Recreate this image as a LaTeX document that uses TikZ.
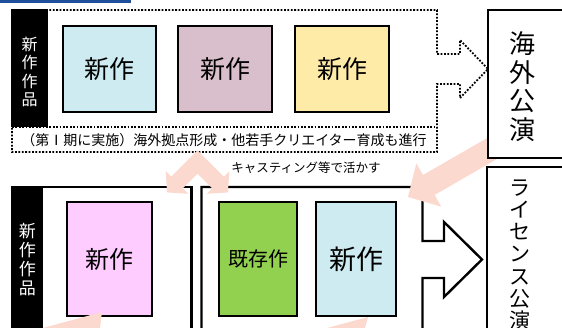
\documentclass[tikz,border=0pt]{standalone}
\usepackage{fontspec}
\newfontfamily\jp{Noto Sans CJK JP}
\definecolor{hdrblue}{HTML}{1F4E9A}
\definecolor{cyanbox}{HTML}{CDEBF0}
\definecolor{mauvebox}{HTML}{D9BFCC}
\definecolor{yellowbox}{HTML}{FFEBA8}
\definecolor{pinkbox}{HTML}{FFCCFF}
\definecolor{greenbox}{HTML}{92D050}
\definecolor{arrowpink}{HTML}{FCD9CF}
\tikzset{
  dotline/.style={line width=1.8pt, dash pattern=on 1.8pt off 1.6pt},
  workbox/.style={draw=black, line width=2.2pt, inner sep=0pt, font=\jp\fontsize{25}{28}\selectfont},
  heavy/.style={draw=black, line width=2.4pt},
  pinkshape/.style={fill=arrowpink, draw=none},
  vlabel/.style={text=white, align=center, inner sep=0pt, font=\jp\fontsize{16}{18.5}\selectfont},
  vtitle/.style={align=center, inner sep=0pt},
}
\begin{document}
\begin{tikzpicture}[x=1pt,y=-1pt]
\useasboundingbox (0,0) rectangle (562,328);
\clip (0,0) rectangle (562,328);

% header bar
\fill[hdrblue] (0,0) rectangle (131,3);

% ---------- upper section ----------
\draw[dotline] (12,10) -- (437,10) -- (437,54) -- (460,54) -- (460,40) -- (488,69)
  -- (460,98) -- (460,84) -- (437,84) -- (437,152) -- (12,152) -- cycle;
\draw[dotline] (12,127) -- (437,127);
\fill[black] (11.1,9.1) rectangle (48,127);
\node[vlabel] (lab1) at (29.5,72) {新\\作\\作\\品};

\node[workbox, fill=cyanbox, minimum width=93pt, minimum height=86pt] (n1) at (109.5,69) {新作};
\node[workbox, fill=mauvebox, minimum width=94pt, minimum height=86pt] (n2) at (225,69) {新作};
\node[workbox, fill=yellowbox, minimum width=94pt, minimum height=86pt] (n3) at (342,69) {新作};

\node[inner sep=0pt, font=\jp\fontsize{14}{16}\selectfont] (cap) at (224,140)
  {（第Ⅰ期に実施）海外拠点形成・他若手クリエイター育成も進行};

\node[inner sep=0pt, font=\jp\fontsize{12.5}{14}\selectfont] (cast) at (306,168)
  {キャスティング等で活かす};

% ---------- lower section ----------
\draw[heavy] (12,187) rectangle (191.5,345);
\fill[black] (10.8,185.8) rectangle (43,335);
\node[vlabel, font=\jp\fontsize{17}{19}\selectfont] (lab2) at (27.5,260) {新\\作\\作\\品};
\node[workbox, fill=pinkbox, line width=2pt, minimum width=85pt, minimum height=114pt,
  font=\jp\fontsize{24}{28}\selectfont] (n4) at (109.5,259) {新作};

\draw[heavy] (201.5,345) -- (201.5,187) -- (422.5,187) -- (422.5,241) -- (444,241)
  -- (444,222) -- (482,259.5) -- (444,297) -- (444,278) -- (422.5,278) -- (422.5,345);
\node[workbox, fill=greenbox, line width=2pt, minimum width=78pt, minimum height=114pt,
  font=\jp\fontsize{20}{24}\selectfont] (n5) at (258,259) {既存作};
\node[workbox, fill=cyanbox, line width=2pt, minimum width=80pt, minimum height=114pt,
  font=\jp\fontsize{27}{30}\selectfont] (n6) at (356,259) {新作};

% pink arrow tips from below
\fill[pinkshape] (102,312) -- (17,335) -- (99.1,335) -- cycle;
\fill[pinkshape] (368,317) -- (301,335) -- (363.1,335) -- cycle;

% pink arrow from overseas box
\fill[pinkshape] (408,197) -- (416.3,163.3) -- (423,175) -- (492.4,135) -- (503.8,155)
  -- (434.6,195) -- (441.3,206.7) -- cycle;

% pink double arrow
\fill[pinkshape] (197.5,150.4) -- (223.8,176.7) -- (229.3,171.2) -- (227.9,192.4)
  -- (206.7,193.8) -- (212.2,188.3) -- (197.5,173.6) -- (182.8,188.3) -- (188.3,193.8)
  -- (167.1,192.4) -- (165.7,171.2) -- (171.2,176.7) -- cycle;

% right boxes
\draw[heavy, line width=2.2pt, fill=white] (488,10) rectangle (600,158);
\node[vtitle, font=\jp\fontsize{26}{28.5}\selectfont] (kaigai) at (522,86.5) {海\\外\\公\\演};
\draw[heavy, line width=2.2pt, fill=white] (487,167) rectangle (600,345);
\node[vtitle, font=\jp\fontsize{21}{22.3}\selectfont] (license) at (520,255) {ラ\\イ\\セ\\ン\\ス\\公\\演};
\end{tikzpicture}
\end{document}
